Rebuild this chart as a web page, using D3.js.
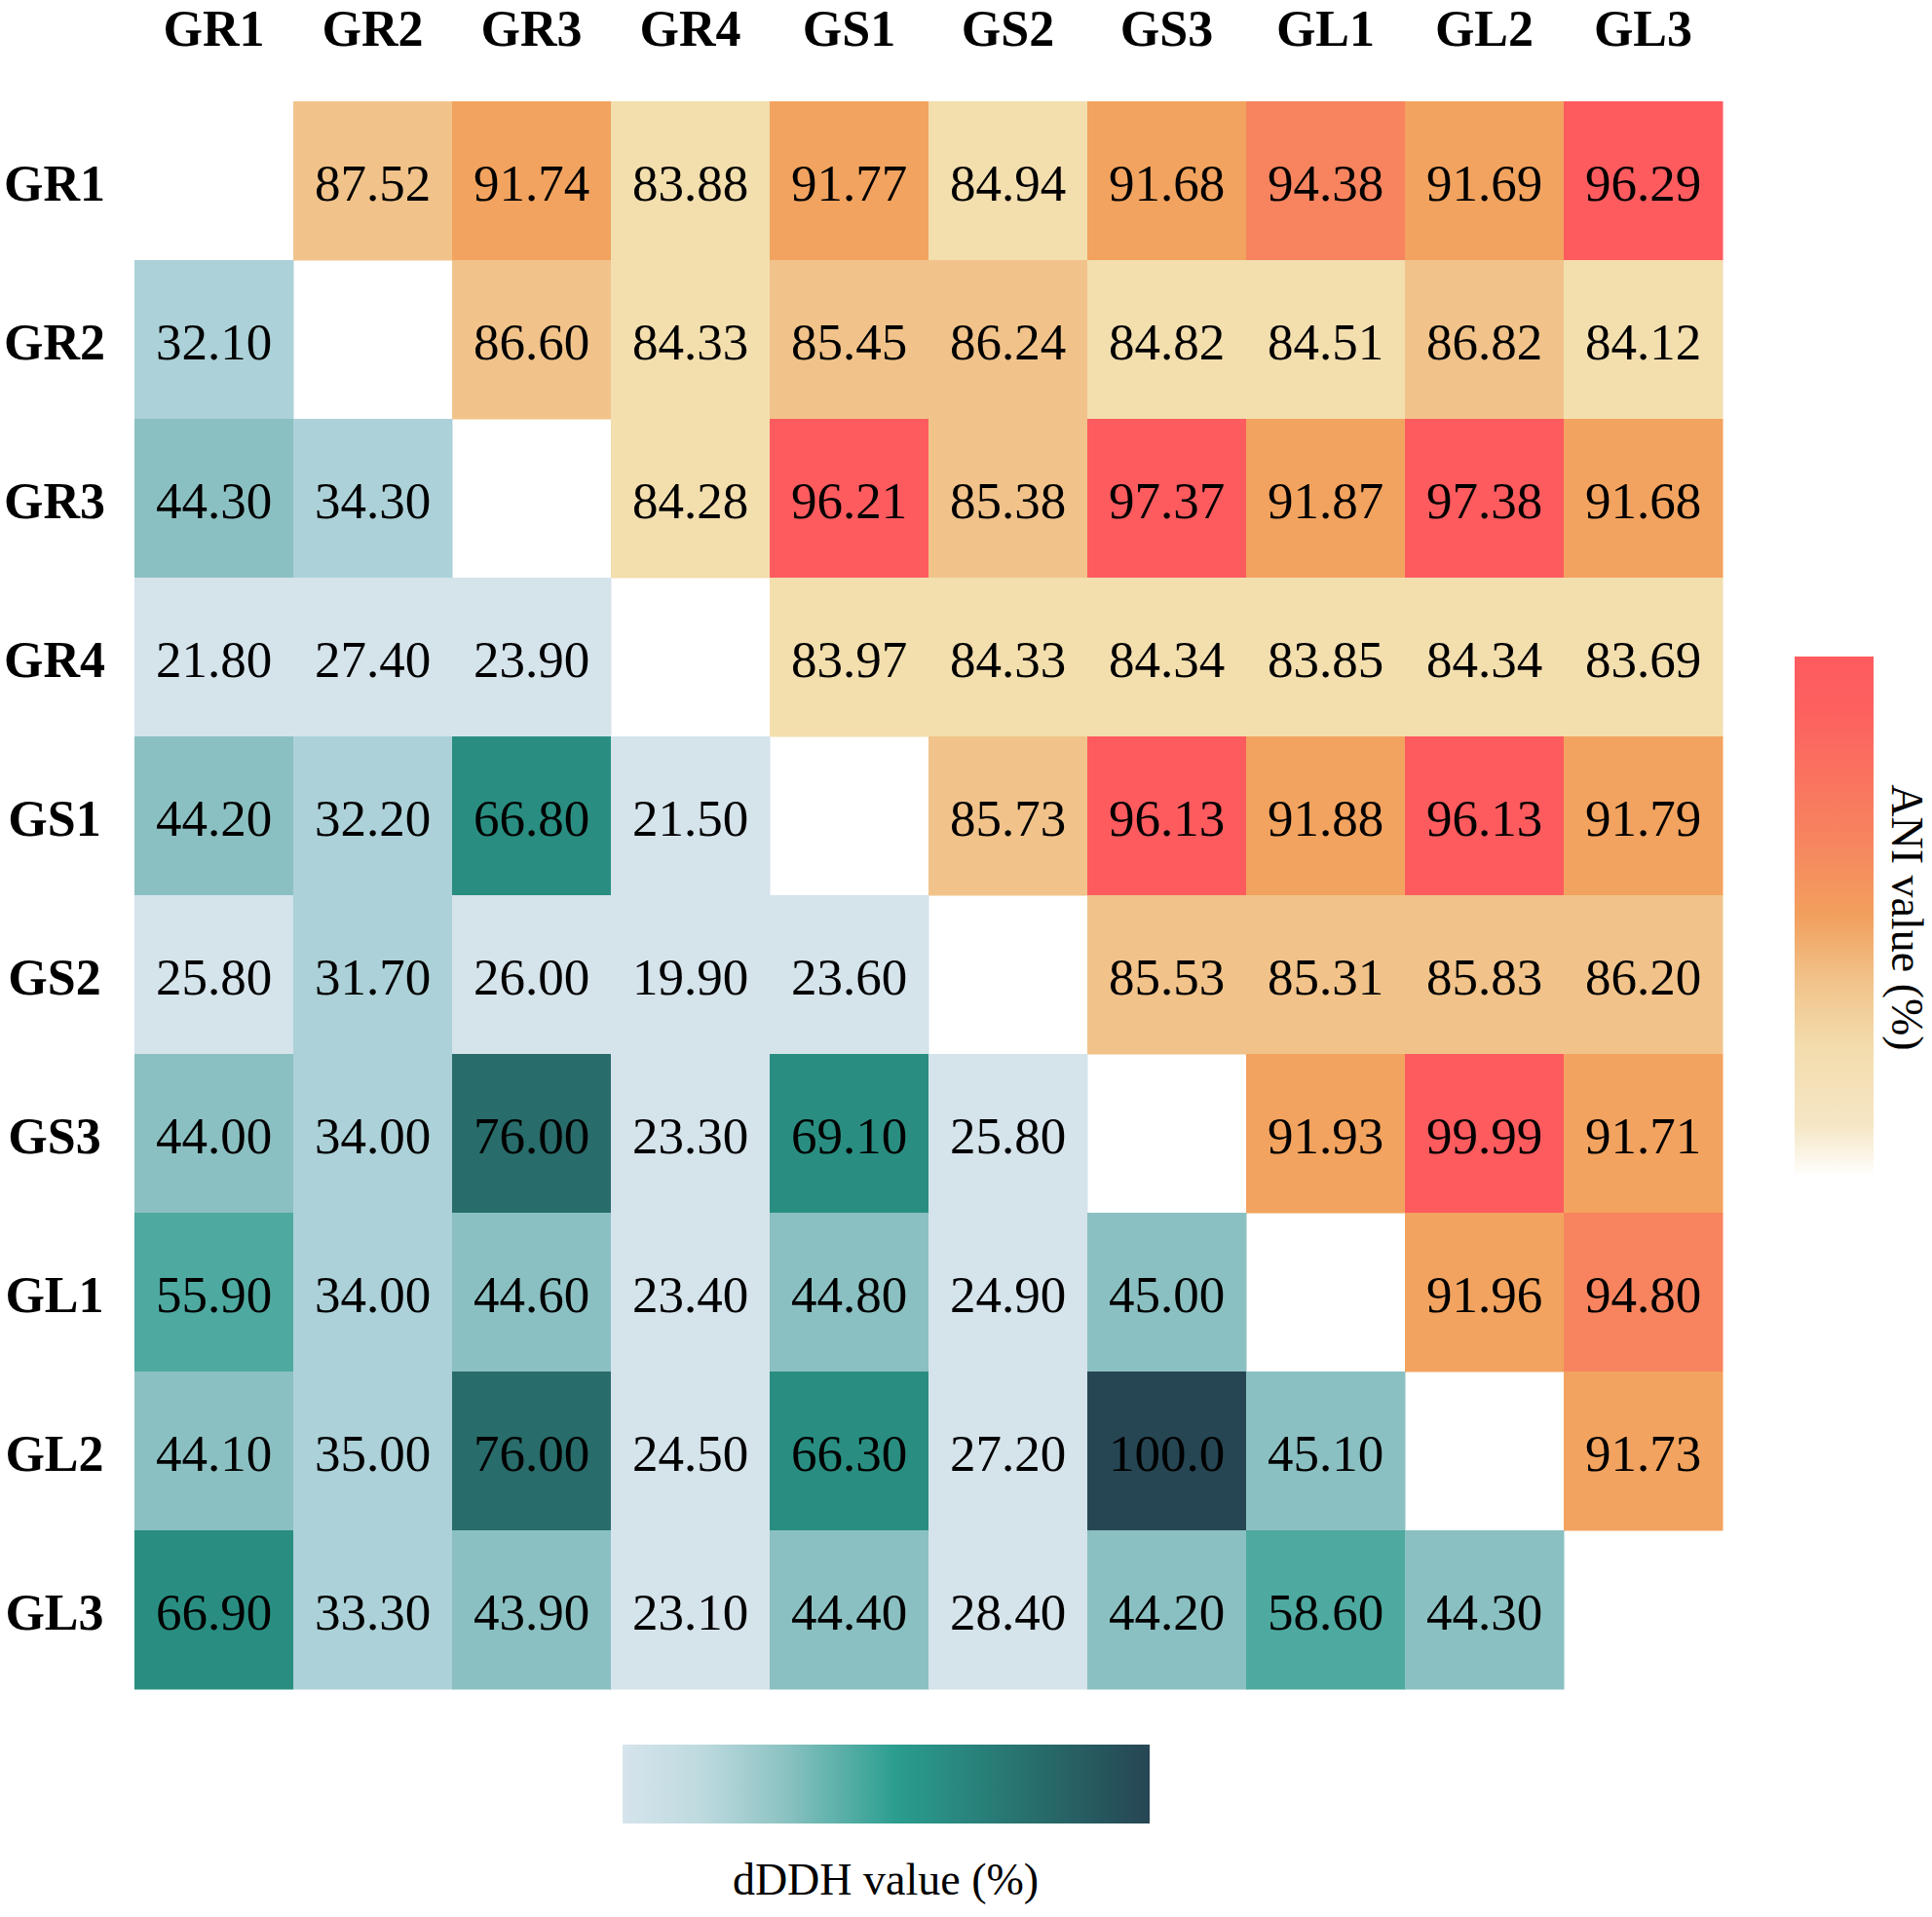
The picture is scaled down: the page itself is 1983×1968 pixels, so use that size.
<!DOCTYPE html>
<html>
<head>
<meta charset="utf-8">
<script src="https://cdn.jsdelivr.net/npm/d3@7"></script>
<style>
  body { margin: 0; background: #fff; }
  text { font-family: "Liberation Serif", "Times New Roman", serif; }
</style>
</head>
<body>
<svg id="chart" width="1983" height="1968"></svg>
<script>
const strains = ["GR1", "GR2", "GR3", "GR4", "GS1", "GS2", "GS3", "GL1", "GL2", "GL3"];

// upper triangle: ANI (%), row i against columns i+1..9
const aniRows = [
  [87.52, 91.74, 83.88, 91.77, 84.94, 91.68, 94.38, 91.69, 96.29],
  [86.60, 84.33, 85.45, 86.24, 84.82, 84.51, 86.82, 84.12],
  [84.28, 96.21, 85.38, 97.37, 91.87, 97.38, 91.68],
  [83.97, 84.33, 84.34, 83.85, 84.34, 83.69],
  [85.73, 96.13, 91.88, 96.13, 91.79],
  [85.53, 85.31, 85.83, 86.20],
  [91.93, 99.99, 91.71],
  [91.96, 94.80],
  [91.73],
  []
];

// lower triangle: dDDH (%), row i against columns 0..i-1
const dddhRows = [
  [],
  [32.10],
  [44.30, 34.30],
  [21.80, 27.40, 23.90],
  [44.20, 32.20, 66.80, 21.50],
  [25.80, 31.70, 26.00, 19.90, 23.60],
  [44.00, 34.00, 76.00, 23.30, 69.10, 25.80],
  [55.90, 34.00, 44.60, 23.40, 44.80, 24.90, 45.00],
  [44.10, 35.00, 76.00, 24.50, 66.30, 27.20, 100.0, 45.10],
  [66.90, 33.30, 43.90, 23.10, 44.40, 28.40, 44.20, 58.60, 44.30]
];

const aniBreaks = [85, 90, 93, 96];
const aniColors = ["#f3deae", "#f1c38a", "#f2a35f", "#f7845f", "#fe5b5f"];
const dddhBreaks = [30, 40, 50, 62, 72, 90];
const dddhColors = ["#d5e3eb", "#acd1d8", "#8bc0c2", "#4ea9a0", "#298e81", "#286c6b", "#264653"];

const aniBarStops = [
  [0, "#fe5b5f"], [0.1, "#fd605f"], [0.35, "#f7845f"], [0.5, "#f2a05e"],
  [0.62, "#f1c289"], [0.75, "#f3dcad"], [0.9, "#f5e6c4"], [1, "#ffffff"]
];
const dddhBarStops = [
  [0, "#d6e4ec"], [0.15, "#bddadf"], [0.3, "#8fc4c4"], [0.52, "#2a9d8f"],
  [0.75, "#287370"], [1, "#264653"]
];

const svg = d3.select("#chart");

svg.append("rect")
  .attr("width", 1983)
  .attr("height", 1968)
  .attr("fill", "#fff");

const x = d3.scaleBand().domain(strains).range([138, 1768]);
const y = d3.scaleBand().domain(strains).range([104, 1734]);

const aniColor = d3.scaleThreshold().domain(aniBreaks).range(aniColors);
const dddhColor = d3.scaleThreshold().domain(dddhBreaks).range(dddhColors);
const fmt = d3.format(".4r");

let cells = [];
for (let i = 0; i < strains.length; i++) {
  aniRows[i].forEach((v, k) => {
    cells.push({ row: strains[i], col: strains[i + 1 + k], value: v, fill: aniColor(v) });
  });
  dddhRows[i].forEach((v, k) => {
    cells.push({ row: strains[i], col: strains[k], value: v, fill: dddhColor(v) });
  });
}

const cell = svg.append("g")
  .selectAll("g")
  .data(cells)
  .join("g")
  .attr("transform", d => "translate(" + x(d.col) + "," + y(d.row) + ")");

cell.append("rect")
  .attr("width", x.bandwidth() + 0.5)
  .attr("height", y.bandwidth() + 0.5)
  .attr("fill", d => d.fill);

cell.append("text")
  .attr("x", x.bandwidth() / 2)
  .attr("y", y.bandwidth() / 2 + 20)
  .attr("text-anchor", "middle")
  .attr("font-size", 53)
  .attr("fill", "#000")
  .text(d => fmt(d.value));

// column labels
svg.append("g")
  .selectAll("text")
  .data(strains)
  .join("text")
  .attr("x", d => x(d) + x.bandwidth() / 2)
  .attr("y", 47)
  .attr("text-anchor", "middle")
  .attr("font-size", 52)
  .attr("font-weight", "bold")
  .text(d => d);

// row labels
svg.append("g")
  .selectAll("text")
  .data(strains)
  .join("text")
  .attr("x", 56)
  .attr("y", d => y(d) + y.bandwidth() / 2 + 20)
  .attr("text-anchor", "middle")
  .attr("font-size", 52)
  .attr("font-weight", "bold")
  .text(d => d);

// colour bars
const defs = svg.append("defs");

defs.append("linearGradient")
  .attr("id", "aniGrad")
  .attr("x1", 0).attr("y1", 0).attr("x2", 0).attr("y2", 1)
  .selectAll("stop")
  .data(aniBarStops)
  .join("stop")
  .attr("offset", d => d[0])
  .attr("stop-color", d => d[1]);

defs.append("linearGradient")
  .attr("id", "dddhGrad")
  .attr("x1", 0).attr("y1", 0).attr("x2", 1).attr("y2", 0)
  .selectAll("stop")
  .data(dddhBarStops)
  .join("stop")
  .attr("offset", d => d[0])
  .attr("stop-color", d => d[1]);

svg.append("rect")
  .attr("x", 1842)
  .attr("y", 674)
  .attr("width", 81)
  .attr("height", 534)
  .attr("fill", "url(#aniGrad)");

svg.append("text")
  .attr("transform", "translate(1942,942) rotate(90)")
  .attr("text-anchor", "middle")
  .attr("font-size", 46)
  .text("ANI value (%)");

svg.append("rect")
  .attr("x", 639)
  .attr("y", 1791)
  .attr("width", 541)
  .attr("height", 81)
  .attr("fill", "url(#dddhGrad)");

svg.append("text")
  .attr("x", 909)
  .attr("y", 1945)
  .attr("text-anchor", "middle")
  .attr("font-size", 46)
  .text("dDDH value (%)");
</script>
</body>
</html>
